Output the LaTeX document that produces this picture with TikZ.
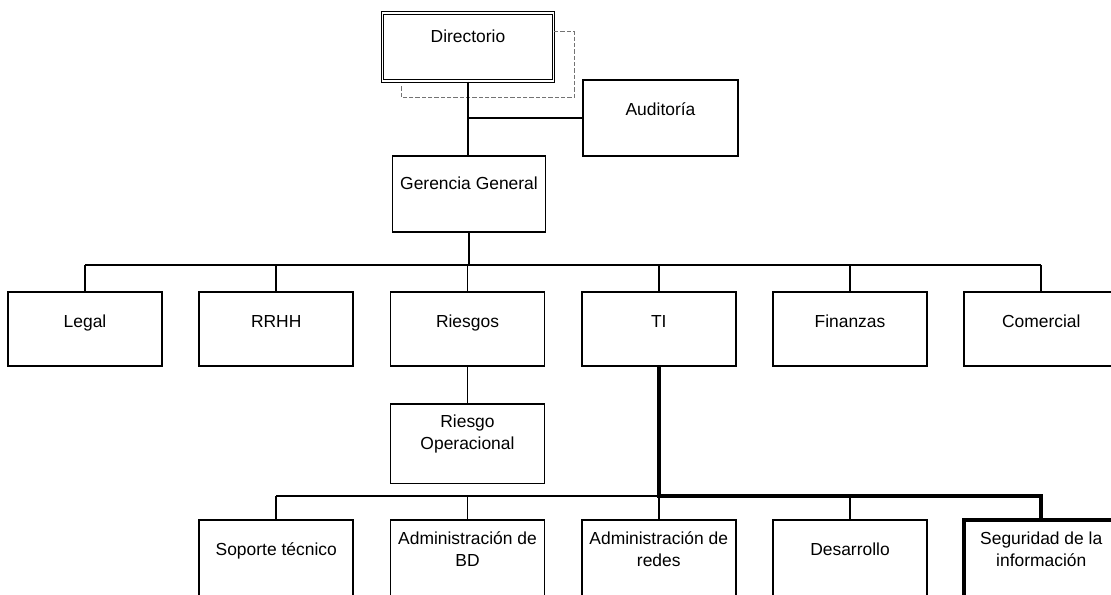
\documentclass[tikz,border=0pt]{standalone}
\usepackage{fontspec}
\setmainfont{Liberation Sans}
\usetikzlibrary{positioning}

\tikzset{
    unit/.style={draw, line width=1.2pt, minimum width=3.85cm, inner sep=0pt, align=center,
                 font=\fontsize{12.4pt}{15.6pt}\selectfont},
    link/.style={line width=1.2pt},
    tipath/.style={line width=3pt},
    dashline/.style={draw=black!55, line width=0.7pt, dash pattern=on 3pt off 1.5pt}
}

\begin{document}
\begin{tikzpicture}[x=0.025cm, y=-0.025cm, node distance=4.78cm, on grid]
    \useasboundingbox (0,0) rectangle (1111,594);
    \clip (0,0) rectangle (1111,594);

    % top
    \node[unit, double, double distance=1pt, line width=0.9pt, minimum width=4.275cm,
          text height=0.725cm, text depth=0.975cm] (directorio) at (468,47) {Directorio};
    \node[unit, minimum width=3.875cm, text height=0.875cm, text depth=1.025cm] (auditoria) at (660.5,118) {Auditoría};
    \node[unit, minimum width=3.825cm, text height=0.825cm, text depth=1.075cm] (gerencia) at (469,194) {Gerencia General};

    % areas
    \node[unit, text height=0.875cm, text depth=0.975cm] (legal) at (85,329) {Legal};
    \node[unit, text height=0.875cm, text depth=0.975cm] (rrhh) [right=of legal] {RRHH};
    \node[unit, text height=0.875cm, text depth=0.975cm] (riesgos) [right=of rrhh] {Riesgos};
    \node[unit, text height=0.875cm, text depth=0.975cm] (ti) [right=of riesgos] {TI};
    \node[unit, text height=0.875cm, text depth=0.975cm] (finanzas) [right=of ti] {Finanzas};
    \node[unit, text height=0.875cm, text depth=0.975cm] (comercial) [right=of finanzas] {Comercial};

    \node[unit, text height=1.125cm, text depth=0.85cm] (riesgoop) [below=2.87cm of riesgos] {Riesgo\\Operacional};

    % TI
    \node[unit, text height=0.875cm, text depth=2.125cm] (soporte) [below=6.275cm of rrhh] {Soporte técnico};
    \node[unit, text height=1.15cm, text depth=1.85cm] (bd) [right=of soporte] {Administración de\\BD};
    \node[unit, text height=1.15cm, text depth=1.85cm] (redes) [right=of bd] {Administración de\\redes};
    \node[unit, text height=0.875cm, text depth=2.125cm] (desarrollo) [right=of redes] {Desarrollo};
    \node[unit, line width=2.6pt, text height=1.15cm, text depth=1.85cm] (seguridad) [right=of desarrollo] {Seguridad de la\\información};

    \coordinate (bus1) at (469,265);
    \coordinate (bus2) at (469,496);

    \draw[dashline] (directorio.north east) ++(0,19) -- ++(20,0) -- ++(0,66) -- ++(-173,0) -- ++(0,-13);

    \draw[link] (directorio.south) -- (directorio.south |- gerencia.north);
    \draw[link] (auditoria.west) -- (auditoria.west -| directorio.south);
    \draw[link] (gerencia.south) -- (gerencia.south |- bus1);
    \draw[link] (legal.north |- bus1) -- (comercial.north |- bus1);
    \foreach \n in {legal,rrhh,riesgos,ti,finanzas,comercial}
        \draw[link] (\n.north) -- (\n.north |- bus1);
    \draw[link] (riesgos.south) -- (riesgoop.north);
    \draw[link] (soporte.north |- bus2) -- (redes.north |- bus2);
    \foreach \n in {soporte,bd,redes,desarrollo}
        \draw[link] (\n.north) -- (\n.north |- bus2);
    \draw[tipath] (ti.south) |- (seguridad.north |- bus2) -- (seguridad.north);
\end{tikzpicture}
\end{document}
